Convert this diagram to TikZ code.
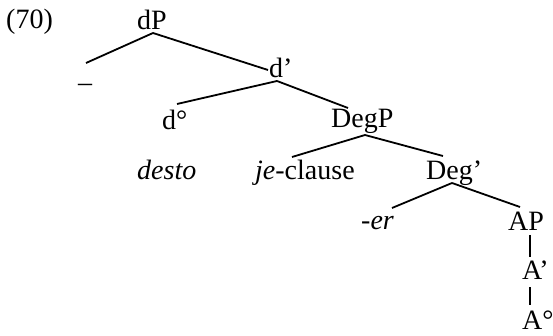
\documentclass[tikz,border=0pt]{standalone}
\usepackage{fontspec}
\setmainfont{Liberation Serif}

\tikzset{
	lbl/.style={inner sep=0pt, anchor=base west, font=\fontsize{28}{34}\selectfont},
	branch/.style={line width=1.8pt}
}

\begin{document}
\begin{tikzpicture}[x=1pt,y=-1pt]
	\useasboundingbox (0,0) rectangle (553,336);

	% labels of the tree, placed by baseline
	\node[lbl] (ex) at (6,29) {(70)};
	\node[lbl] (dP) at (137,30) {dP};
	\node[lbl] (spec) at (78,92) {–};
	\node[lbl] (dbar) at (269,78) {d’};
	\node[lbl] (dhead) at (162,130) {d°};
	\node[lbl] (DegP) at (331,128) {DegP};
	\node[lbl] (desto) at (137,180) {\textit{desto}};
	\node[lbl] (je) at (255,180) {\textit{je}-clause};
	\node[lbl] (Degbar) at (426,180) {Deg’};
	\node[lbl] (er) at (361,230) {\textit{-er}};
	\node[lbl] (AP) at (508,231) {AP};
	\node[lbl] (Abar) at (522,279) {A’};
	\node[lbl] (Ahead) at (522,329) {A°};

	% branches
	\draw[branch] ([shift={(16,3)}]dP.base west) -- ([shift={(8,-29)}]spec.base west);
	\draw[branch] ([shift={(16,3)}]dP.base west) -- ([shift={(-1,-8)}]dbar.base west);
	\draw[branch] ([shift={(8,3)}]dbar.base west) -- ([shift={(15,-26)}]dhead.base west);
	\draw[branch] ([shift={(8,3)}]dbar.base west) -- ([shift={(17,-20)}]DegP.base west);
	\draw[branch] ([shift={(34,7)}]DegP.base west) -- ([shift={(37,-23)}]je.base west);
	\draw[branch] ([shift={(34,7)}]DegP.base west) -- ([shift={(17,-24)}]Degbar.base west);
	\draw[branch] ([shift={(26,3)}]Degbar.base west) -- ([shift={(31,-22)}]er.base west);
	\draw[branch] ([shift={(26,3)}]Degbar.base west) -- ([shift={(12,-24)}]AP.base west);
	\draw[branch] ([shift={(22,4)}]AP.base west) -- ([shift={(8,-22)}]Abar.base west);
	\draw[branch] ([shift={(8,8)}]Abar.base west) -- ([shift={(8,-24)}]Ahead.base west);
\end{tikzpicture}
\end{document}
